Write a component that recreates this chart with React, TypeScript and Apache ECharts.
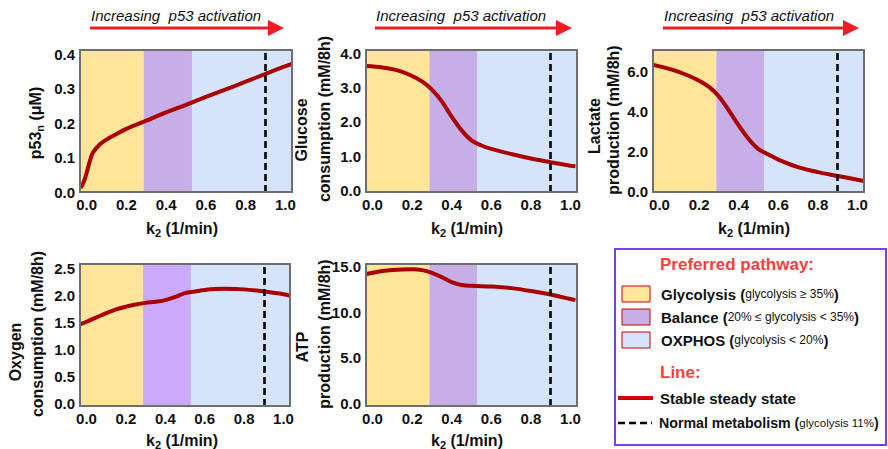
import React, { useEffect, useRef } from "react";
import * as echarts from "echarts";

// ---- data ----
const xTickValues = [0, 0.2, 0.4, 0.6, 0.8, 1.0];
const bandEdges = [0.287, 0.53];
const normalK2 = 0.895;

const p53K2 = [-0.03, -0.02, -0.01, 0, 0.01, 0.02, 0.03, 0.05, 0.07, 0.1, 0.15, 0.2, 0.3, 0.4, 0.5, 0.6, 0.7, 0.8, 0.9, 1.0, 1.03];
const p53Values = [0.012, 0.022, 0.036, 0.055, 0.076, 0.097, 0.112, 0.128, 0.14, 0.152, 0.168, 0.183, 0.207, 0.231, 0.253, 0.276, 0.298, 0.32, 0.343, 0.365, 0.372];
const p53Ticks = [0, 0.1, 0.2, 0.3, 0.4];

const glucoseK2 = [-0.03, 0.05, 0.1, 0.15, 0.2, 0.25, 0.3, 0.35, 0.4, 0.45, 0.5, 0.55, 0.6, 0.7, 0.8, 0.9, 1.0, 1.025];
const glucoseValues = [3.63, 3.59, 3.54, 3.46, 3.34, 3.18, 2.94, 2.6, 2.15, 1.75, 1.46, 1.31, 1.21, 1.06, 0.93, 0.82, 0.72, 0.7];
const glucoseTicks = [0, 1, 2, 3, 4];

const lactateK2 = [-0.03, 0.05, 0.1, 0.15, 0.2, 0.25, 0.3, 0.35, 0.4, 0.45, 0.5, 0.55, 0.6, 0.7, 0.8, 0.9, 1.0, 1.035];
const lactateValues = [6.35, 6.15, 5.99, 5.79, 5.55, 5.24, 4.76, 4.06, 3.3, 2.62, 2.11, 1.84, 1.58, 1.2, 0.95, 0.76, 0.57, 0.5];
const lactateTicks = [0, 2, 4, 6];

const oxygenK2 = [-0.035, 0.0, 0.05, 0.1, 0.15, 0.2, 0.25, 0.3, 0.35, 0.4, 0.45, 0.5, 0.55, 0.6, 0.7, 0.8, 0.9, 1.0, 1.035];
const oxygenValues = [1.46, 1.51, 1.59, 1.67, 1.74, 1.79, 1.83, 1.86, 1.88, 1.91, 1.97, 2.04, 2.07, 2.1, 2.12, 2.11, 2.07, 2.02, 1.99];
const oxygenTicks = [0, 0.5, 1, 1.5, 2, 2.5];

const atpK2 = [-0.03, 0.05, 0.1, 0.15, 0.2, 0.25, 0.3, 0.35, 0.4, 0.45, 0.5, 0.6, 0.7, 0.8, 0.9, 1.0, 1.025];
const atpValues = [14.2, 14.52, 14.64, 14.7, 14.71, 14.63, 14.33, 13.86, 13.32, 13.0, 12.9, 12.82, 12.65, 12.34, 11.95, 11.45, 11.33];
const atpTicks = [0, 5, 10, 15];

const FONT = "'Liberation Sans', Arial, sans-serif";
const XMIN = -0.033;
const XMAX = 1.033;
const LINE_RED = "#AA0000";
const ARROW_RED = "#EE1C24";
const HEAD_RED = "#F5413E";

const panels = [
  { k2: p53K2, v: p53Values, ticks: p53Ticks, ymin: 0, ymax: 0.412, grid: { left: 80, top: 50, width: 212, height: 142 }, purple: "#C6AEE6" },
  { k2: glucoseK2, v: glucoseValues, ticks: glucoseTicks, ymin: -0.05, ymax: 4.1, grid: { left: 366, top: 50, width: 211, height: 142 }, purple: "#C6AEE6" },
  { k2: lactateK2, v: lactateValues, ticks: lactateTicks, ymin: -0.05, ymax: 7.1, grid: { left: 653, top: 50, width: 211, height: 142 }, purple: "#C6AEE6" },
  { k2: oxygenK2, v: oxygenValues, ticks: oxygenTicks, ymin: -0.05, ymax: 2.58, grid: { left: 80, top: 264, width: 210, height: 142 }, purple: "#CCAAFB" },
  { k2: atpK2, v: atpValues, ticks: atpTicks, ymin: -0.3, ymax: 15.3, grid: { left: 366, top: 264, width: 211, height: 142 }, purple: "#C6AEE6" },
];

function vText(x: number, y: number, text: string, size = 16) {
  return {
    type: "text",
    x,
    y,
    rotation: Math.PI / 2,
    z: 50,
    style: {
      text,
      font: `bold ${size}px ${FONT}`,
      fill: "#111",
      align: "center",
      verticalAlign: "middle",
      textAlign: "center",
      textVerticalAlign: "middle",
    },
  };
}

function subText(x: number, y: number, main: string, sub: string, rest: string, rotate: boolean) {
  return {
    type: "text",
    x,
    y,
    rotation: rotate ? Math.PI / 2 : 0,
    z: 50,
    style: {
      text: `{a|${main}}{s|${sub}}{a|${rest}}`,
      align: "center",
      verticalAlign: "middle",
      textAlign: "center",
      textVerticalAlign: "middle",
      rich: {
        a: { fontSize: 16, fontWeight: "bold", fontFamily: FONT, fill: "#111", color: "#111", lineHeight: 20, verticalAlign: "middle" },
        s: { fontSize: 11, fontWeight: "bold", fontFamily: FONT, fill: "#111", color: "#111", lineHeight: 20, verticalAlign: "bottom" },
      },
    },
  };
}

function arrow(x1: number, x2: number, textX: number) {
  return [
    {
      type: "text",
      x: textX,
      y: 15,
      z: 50,
      style: {
        text: "Increasing  p53 activation",
        font: `italic 15px ${FONT}`,
        fill: "#111",
        align: "left",
        verticalAlign: "middle",
        textAlign: "left",
        textVerticalAlign: "middle",
      },
    },
    { type: "line", z: 50, shape: { x1, y1: 28, x2: x2 - 14, y2: 28 }, style: { stroke: ARROW_RED, lineWidth: 3 } },
    { type: "polygon", z: 50, shape: { points: [[x2 - 16, 20], [x2, 28], [x2 - 16, 36]] }, style: { fill: ARROW_RED } },
  ];
}

const richB = { fontSize: 15, fontWeight: "bold", fontFamily: FONT, fill: "#111", color: "#111" };
const richS = { fontSize: 12, fontFamily: FONT, fill: "#111", color: "#111" };
const richB2 = { fontSize: 14.2, fontWeight: "bold", fontFamily: FONT, fill: "#111", color: "#111" };
const richS2 = { fontSize: 11.5, fontFamily: FONT, fill: "#111", color: "#111" };

function legendItem(y: number, color: string, name: string, detail: string) {
  return [
    { type: "rect", z: 50, shape: { x: 622, y: y - 8, width: 28, height: 16 }, style: { fill: color, stroke: "#CC0000", lineWidth: 1 } },
    {
      type: "text",
      x: 661,
      y,
      z: 50,
      style: {
        text: `{b|${name} (}{s|${detail}}{b|)}`,
        align: "left",
        verticalAlign: "middle",
        textAlign: "left",
        textVerticalAlign: "middle",
        rich: { b: richB, s: richS },
      },
    },
  ];
}

export default function App() {
  const ref = useRef<HTMLDivElement>(null);

  useEffect(() => {
    if (!ref.current) return;
    const chart = echarts.init(ref.current, undefined, { renderer: "svg" });

    const grid = panels.map((p) => ({ ...p.grid, show: false, containLabel: false }));
    const xAxis = panels.map((p, i) => ({
      type: "value",
      gridIndex: i,
      min: XMIN,
      max: XMAX,
      axisLine: { show: false },
      axisTick: { show: false },
      splitLine: { show: false },
      axisLabel: {
        customValues: xTickValues,
        formatter: (v: number) => v.toFixed(1),
        fontFamily: FONT,
        fontWeight: "bold",
        fontSize: 15,
        color: "#111",
        margin: 5,
      },
    }));
    const yAxis = panels.map((p, i) => ({
      type: "value",
      gridIndex: i,
      min: p.ymin,
      max: p.ymax,
      axisLine: { show: false },
      axisTick: { show: false },
      splitLine: { show: false },
      axisLabel: {
        customValues: p.ticks,
        formatter: (v: number) => v.toFixed(1),
        fontFamily: FONT,
        fontWeight: "bold",
        fontSize: 15,
        color: "#111",
        margin: 5,
      },
    }));

    const series: any[] = [];
    panels.forEach((p, i) => {
      series.push({
        type: "line",
        xAxisIndex: i,
        yAxisIndex: i,
        z: 1,
        data: [],
        silent: true,
        markArea: {
          silent: true,
          data: [
            [{ xAxis: XMIN, itemStyle: { color: "#FEE59A" } }, { xAxis: bandEdges[0] }],
            [{ xAxis: bandEdges[0], itemStyle: { color: p.purple } }, { xAxis: bandEdges[1] }],
            [{ xAxis: bandEdges[1], itemStyle: { color: "#D5E4FB" } }, { xAxis: XMAX }],
          ],
        },
      });
      series.push({
        type: "line",
        xAxisIndex: i,
        yAxisIndex: i,
        z: 3,
        data: p.k2.map((x, j) => [x, p.v[j]]),
        showSymbol: false,
        symbol: "none",
        smooth: 0.35,
        lineStyle: { color: LINE_RED, width: 4 },
        silent: true,
      });
      series.push({
        type: "line",
        xAxisIndex: i,
        yAxisIndex: i,
        z: 4,
        data: [],
        silent: true,
        markLine: {
          silent: true,
          symbol: ["none", "none"],
          label: { show: false },
          lineStyle: { color: "#000", width: 2.6, type: [7, 4] },
          data: [{ xAxis: normalK2 }],
        },
      });
    });

    const borders = panels.map((p) => ({
      type: "rect",
      z: 40,
      shape: { x: p.grid.left, y: p.grid.top, width: p.grid.width, height: p.grid.height },
      style: { fill: "none", stroke: "#6E6E6E", lineWidth: 2 },
    }));

    const graphic: any[] = [
      ...borders,
      ...arrow(90, 284, 91),
      ...arrow(375, 572, 376),
      ...arrow(663, 859, 664),
      subText(35, 123, "p53", "n", " (μM)", true),
      vText(301, 130, "Glucose"),
      vText(324, 119, "consumption (mM/8h)"),
      vText(594, 126, "Lactate"),
      vText(613, 120, "production (mM/8h)"),
      vText(15, 352, "Oxygen"),
      vText(37, 334, "consumption (mM/8h)"),
      vText(302, 347, "ATP"),
      vText(324, 334, "production (mM/8h)"),
      subText(182, 228, "k", "2", " (1/min)", false),
      subText(467, 228, "k", "2", " (1/min)", false),
      subText(754, 228, "k", "2", " (1/min)", false),
      subText(182, 440, "k", "2", " (1/min)", false),
      subText(467, 440, "k", "2", " (1/min)", false),
      // legend box
      { type: "rect", z: 45, shape: { x: 615, y: 249, width: 271, height: 196 }, style: { fill: "#fff", stroke: "#7B3FE8", lineWidth: 2 } },
      {
        type: "text", x: 660, y: 264, z: 50,
        style: { text: "Preferred pathway:", font: `bold 17px ${FONT}`, fill: HEAD_RED, align: "left", verticalAlign: "middle", textAlign: "left", textVerticalAlign: "middle" },
      },
      ...legendItem(294, "#FEE59A", "Glycolysis", "glycolysis ≥ 35%"),
      ...legendItem(317, "#C6AEE6", "Balance", "20% ≤ glycolysis < 35%"),
      ...legendItem(340, "#D5E4FB", "OXPHOS", "glycolysis < 20%"),
      {
        type: "text", x: 660, y: 372, z: 50,
        style: { text: "Line:", font: `bold 17px ${FONT}`, fill: HEAD_RED, align: "left", verticalAlign: "middle", textAlign: "left", textVerticalAlign: "middle" },
      },
      { type: "line", z: 50, shape: { x1: 618, y1: 398, x2: 653, y2: 398 }, style: { stroke: "#CC0000", lineWidth: 4 } },
      {
        type: "text", x: 660, y: 398, z: 50,
        style: { text: "Stable steady state", font: `bold 15px ${FONT}`, fill: "#111", align: "left", verticalAlign: "middle", textAlign: "left", textVerticalAlign: "middle" },
      },
      { type: "line", z: 50, shape: { x1: 618, y1: 423, x2: 652, y2: 423 }, style: { stroke: "#000", lineWidth: 2.6, lineDash: [7, 4] } },
      {
        type: "text", x: 659, y: 423, z: 50,
        style: {
          text: "{b|Normal metabolism (}{s|glycolysis 11%}{b|)}",
          align: "left", verticalAlign: "middle", textAlign: "left", textVerticalAlign: "middle",
          rich: { b: richB2, s: richS2 },
        },
      },
    ];

    chart.setOption({
      animation: false,
      backgroundColor: "#ffffff",
      grid,
      xAxis,
      yAxis,
      series,
      graphic,
    });

    return () => chart.dispose();
  }, []);

  return (
    <div
      ref={ref}
      style={{ position: "fixed", left: 0, top: 0, width: 888, height: 449 }}
    />
  );
}
